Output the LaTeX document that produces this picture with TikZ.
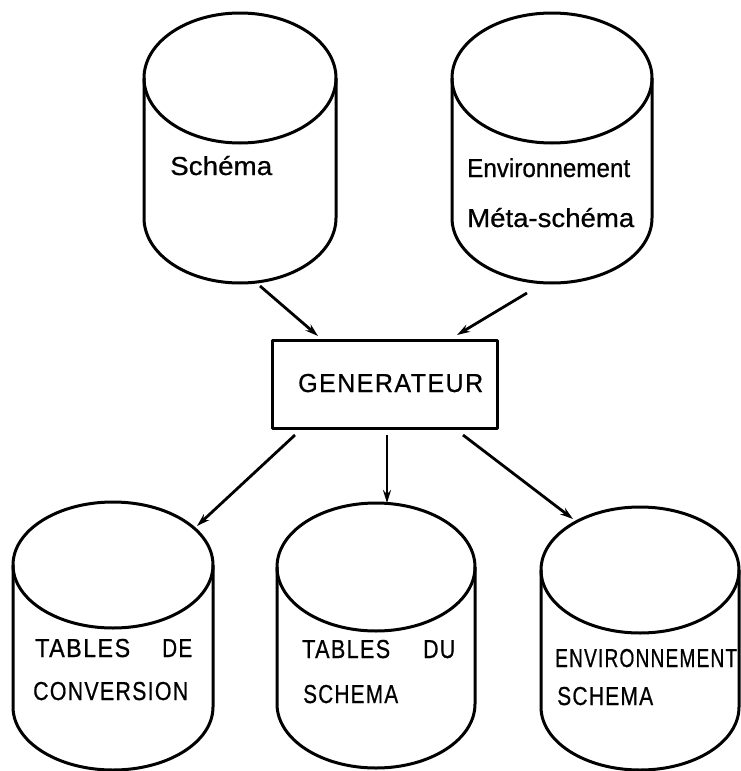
\documentclass[tikz,border=0pt]{standalone}
\usepackage{fontspec}
\setmainfont{Liberation Sans}[FakeBold=0.7]
\usepackage{graphicx}
\usetikzlibrary{arrows.meta}
\newcommand{\sw}[2]{\resizebox{#1pt}{\height}{#2}}
\newcommand{\dbcyl}[6]{% name, cx, ty, by, rx, ry
  \draw[outline] (#2,#3) ellipse [x radius=#5pt, y radius=#6pt];
  \draw[outline] ({#2-#5},#3) -- ({#2-#5},#4) arc[start angle=180, end angle=360, x radius=#5pt, y radius=#6pt] -- ({#2+#5},#3);
  \node[inner sep=0pt, minimum width={2*#5pt}, minimum height={(#4-#3+2*#6)*1pt}] (#1) at (#2,{(#3+#4)/2}) {};
}
\tikzset{
  outline/.style={line width=3pt, line join=round},
  conn/.style={line width=2.8pt, -{Stealth[length=13pt,width=8pt]}},
  lbl/.style={anchor=base west, inner sep=0pt, font=\fontsize{26}{30}\selectfont},
  capslbl/.style={anchor=base west, inner sep=0pt, font=\fontsize{26}{30}\selectfont\addfontfeature{LetterSpace=6}},
}
\begin{document}
\begin{tikzpicture}[x=1pt, y=-1pt]
\useasboundingbox (0,0) rectangle (741,771);
\fill[white] (0,0) rectangle (741,771);

% top cylinders
\dbcyl{schema}{240}{78}{218}{96}{65}
\dbcyl{envmeta}{552}{78}{218}{100}{65}
% bottom cylinders
\dbcyl{tconv}{113}{565}{707}{100}{63}
\dbcyl{tschema}{376}{567}{704}{99}{64}
\dbcyl{envschema}{640}{570}{707}{99}{63}

% generator box
\node[draw, outline, inner sep=0pt, minimum width=225pt, minimum height=88pt] (gen) at (384.5,384) {};
\node[capslbl] (gentxt) at (298,392) {\sw{185}{GENERATEUR}};

% labels
\node[lbl] (l1) at (170,175) {\sw{102}{Schéma}};
\node[lbl] (l2) at (467,177) {\sw{163}{Environnement}};
\node[lbl] (l3) at (467,227) {\sw{167}{Méta-schéma}};
\node[capslbl] (l4) at (35,657) {\sw{95}{TABLES}\hspace{32pt}\sw{30}{DE}};
\node[capslbl] (l5) at (33,700) {\sw{155}{CONVERSION}};
\node[capslbl] (l6) at (302,658) {\sw{88}{TABLES}\hspace{33pt}\sw{32}{DU}};
\node[capslbl] (l7) at (303,703) {\sw{95}{SCHEMA}};
\node[capslbl] (l8) at (555,667) {\sw{182}{ENVIRONNEMENT}};
\node[capslbl] (l9) at (557,705) {\sw{96}{SCHEMA}};

% connector end points
\coordinate (a1s) at (260,286);
\coordinate (a1e) at (318,336);
\coordinate (a2s) at (527,293);
\coordinate (a2e) at (457,335);
\coordinate (b1s) at (295,435);
\coordinate (b1e) at (197,526);
\coordinate (b2s) at (387,435);
\coordinate (b2e) at (387,503);
\coordinate (b3s) at (463,435);
\coordinate (b3e) at (573,519);

\draw[conn] (a1s) -- (a1e);
\draw[conn] (a2s) -- (a2e);
\draw[conn] (b1s) -- (b1e);
\draw[conn] (b2s) -- (b2e);
\draw[conn] (b3s) -- (b3e);
\end{tikzpicture}
\end{document}
